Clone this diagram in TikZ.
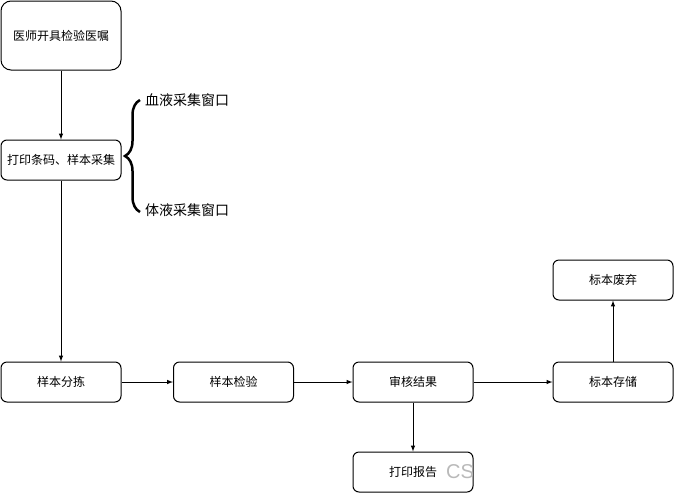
\documentclass[tikz,border=0pt]{standalone}
\usepackage{fontspec}
\newfontfamily\cjk{Noto Sans CJK SC}
\newfontfamily\wmfont{Liberation Sans}
\usetikzlibrary{decorations.pathreplacing}

\begin{document}
\begin{tikzpicture}[
      x=1pt,
      y=-1pt,
      box/.style={draw,line width=1pt,rounded corners=6pt,
        minimum width=120pt,minimum height=40pt,
        font=\cjk\fontsize{12}{14}\selectfont},
      side/.style={anchor=west,inner sep=0pt,
        font=\cjk\fontsize{14}{16}\selectfont},
      flow/.style={-latex,line width=1pt}
    ]
    \useasboundingbox (0,0) rectangle (674,493);

    % main column
    \node[box,minimum height=69pt,rounded corners=10pt] (order) at (61,35.5) {医师开具检验医嘱};
    \node[box] (collect) at (61,160) {打印条码、样本采集};
    \node[box] (sort) at (61,382) {样本分拣};

    % bottom row
    \node[box] (test) at (233.5,382) {样本检验};
    \node[box] (review) at (413,382) {审核结果};
    \node[box] (store) at (613,382) {标本存储};
    \node[box] (discard) at (613,280) {标本废弃};
    \node[box] (report) at (413,472) {打印报告};

    % collection windows
    \coordinate (bracetop) at (140,100);
    \coordinate (bracebot) at (140,212);
    \draw[line width=2.5pt,decorate,decoration={brace,amplitude=15pt}]
    (bracebot) -- (bracetop);
    \node[side] (blood) at (145,100) {血液采集窗口};
    \node[side] (fluid) at (145,210) {体液采集窗口};

    \node[anchor=west,inner sep=0pt,text=gray!55,
      font=\wmfont\fontsize{20}{22}\selectfont] (mark) at (446,472) {CS};

    \draw[flow] (order) -- (collect);
    \draw[flow] (collect) -- (sort);
    \draw[flow] (sort) -- (test);
    \draw[flow] (test) -- (review);
    \draw[flow] (review) -- (store);
    \draw[flow] (review) -- (report);
    \draw[flow] (store) -- (discard);
  \end{tikzpicture}
\end{document}
